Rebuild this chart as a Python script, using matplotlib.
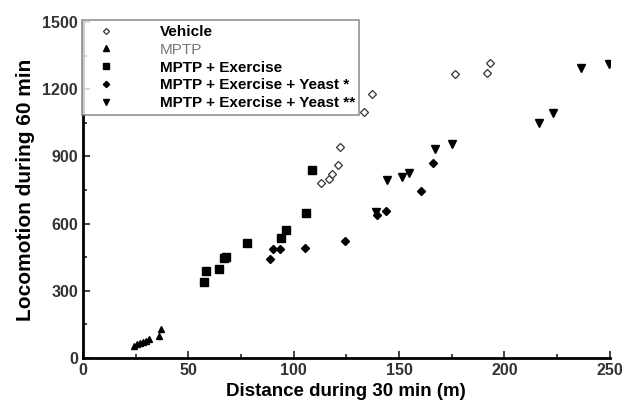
import matplotlib.pyplot as plt
from matplotlib.ticker import MultipleLocator

plt.rcParams['font.family'] = ['Liberation Sans', 'DejaVu Sans']

# values
vehicle_x = [112.8, 116.8, 118.3, 121.1, 122.0, 133.5, 137.0, 176.5, 191.7, 193.0]
vehicle_y = [783, 801, 823, 862, 942, 1098, 1177, 1269, 1273, 1317]

mptp_x = [24.3, 25.5, 27.0, 28.6, 30.0, 31.5, 36.2, 37.3]
mptp_y = [53, 62, 68, 73, 76, 83, 99, 129]

exercise_x = [57.4, 58.3, 64.7, 66.9, 67.8, 77.7, 93.8, 96.6, 105.8, 108.8]
exercise_y = [337, 386, 397, 447, 450, 513, 536, 569, 645, 841]

yeast1_x = [89.0, 90.0, 93.5, 105.3, 124.3, 139.6, 143.7, 160.3, 165.9]
yeast1_y = [443, 486, 487, 493, 523, 640, 657, 745, 871]

yeast2_x = [139.3, 144.5, 151.5, 154.8, 167.0, 174.9, 216.3, 223.1, 236.2, 249.5]
yeast2_y = [652, 794, 806, 828, 933, 957, 1051, 1095, 1293, 1314]

fig = plt.figure(figsize=(6.32, 4.09), dpi=100)
ax = fig.add_axes([0.131, 0.125, 0.834, 0.821])

ax.plot(vehicle_x, vehicle_y, 'D', ms=3.8, mfc='white', mec='#333333', mew=0.9,
        ls='none', label='Vehicle')
ax.plot(mptp_x, mptp_y, '^', ms=5, color='black', ls='none', label='MPTP')
ax.plot(exercise_x, exercise_y, 's', ms=5.2, color='black', ls='none',
        label='MPTP + Exercise')
ax.plot(yeast1_x, yeast1_y, 'D', ms=4, color='black', ls='none',
        label='MPTP + Exercise + Yeast *')
ax.plot(yeast2_x, yeast2_y, 'v', ms=6, color='black', ls='none',
        label='MPTP + Exercise + Yeast **')

ax.set_xlim(0, 250)
ax.set_ylim(0, 1500)
ax.xaxis.set_major_locator(MultipleLocator(50))
ax.xaxis.set_minor_locator(MultipleLocator(25))
ax.yaxis.set_major_locator(MultipleLocator(300))
ax.yaxis.set_minor_locator(MultipleLocator(150))
ax.tick_params(which='both', direction='in', width=1.2, colors='#222222')
ax.tick_params(which='major', length=5, labelsize=11.5)
ax.tick_params(which='minor', length=3)
for lab in ax.get_xticklabels() + ax.get_yticklabels():
    lab.set_fontweight('bold')
    lab.set_color('#333333')

for side in ['top', 'right']:
    ax.spines[side].set_visible(False)
for side in ['left', 'bottom']:
    ax.spines[side].set_linewidth(2)

ax.set_xlabel('Distance during 30 min (m)', fontsize=13.5, fontweight='bold', labelpad=4)
ax.set_ylabel('Locomotion during 60 min', fontsize=15, fontweight='bold', labelpad=5)

leg = ax.legend(loc='upper left', bbox_to_anchor=(-0.002, 1.005), fontsize=11,
                frameon=True, fancybox=False, handletextpad=2.2, borderpad=0.3,
                labelspacing=0.25, handlelength=2.6, borderaxespad=0,
                markerscale=0.8)
leg.get_frame().set_edgecolor('#777777')
leg.get_frame().set_linewidth(1.2)
for i, t in enumerate(leg.get_texts()):
    if i == 1:
        t.set_color('#777777')
    else:
        t.set_fontweight('bold')

fig.savefig('out.png', dpi=100)
